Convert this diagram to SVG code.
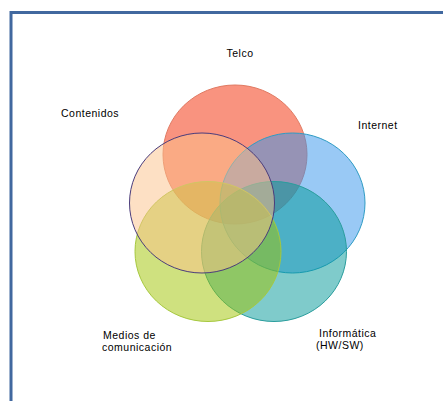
<svg xmlns="http://www.w3.org/2000/svg" width="443" height="401" viewBox="0 0 443 401">
  <style>
    .lbl { font-family: "Liberation Sans", Arial, sans-serif; font-size: 10.5px; letter-spacing: 0.5px; fill: #000; }
    .set { fill-opacity: 0.5; stroke-width: 1; }
  </style>
  <rect width="443" height="401" fill="#ffffff"/>
  <!-- outer frame, running off the right and bottom edges -->
  <rect x="11" y="12.5" width="450" height="420" fill="none" stroke="#41689f" stroke-width="3"/>

  <g id="connectors"></g>

  <g id="telco">
    <ellipse class="set" cx="235" cy="154.5" rx="72" ry="69.5" fill="#f32700" stroke="#e07a62"/>
  </g>
  <g id="internet">
    <ellipse class="set" cx="292.5" cy="203" rx="72.5" ry="70" fill="#3393eb" stroke="#2f9cc4"/>
  </g>
  <g id="informatica">
    <ellipse class="set" cx="274" cy="251.5" rx="72.5" ry="70" fill="#009797" stroke="#2a9d9d"/>
  </g>
  <g id="medios">
    <ellipse class="set" cx="208" cy="251.5" rx="73" ry="70" fill="#9fc300" stroke="#a6c83e"/>
  </g>
  <g id="contenidos">
    <ellipse class="set" cx="202" cy="203" rx="72.5" ry="70" fill="#fbc189" stroke="#4a3c7c" stroke-width="1.5" stroke-opacity="1"/>
  </g>

  <g id="labels">
    <text class="lbl" x="240" y="57" text-anchor="middle">Telco</text>
    <text class="lbl" x="61" y="117">Contenidos</text>
    <text class="lbl" x="358" y="129">Internet</text>
    <text class="lbl" x="103" y="339">Medios de</text>
    <text class="lbl" x="102" y="350.5">comunicación</text>
    <text class="lbl" x="319" y="337">Informática</text>
    <text class="lbl" x="316" y="349">(HW/SW)</text>
  </g>
</svg>
